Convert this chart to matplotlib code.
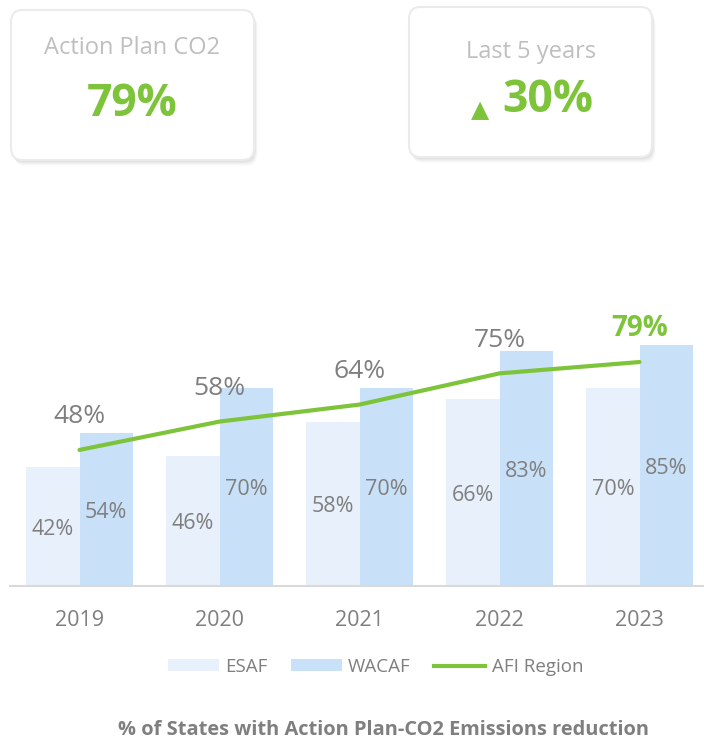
import matplotlib
matplotlib.use("Agg")
import matplotlib.pyplot as plt
from matplotlib.patches import FancyBboxPatch, Patch
from matplotlib.lines import Line2D
import numpy as np

plt.rcParams['font.family'] = ['Open Sans', 'DejaVu Sans']

years = ["2019", "2020", "2021", "2022", "2023"]
esaf = [42, 46, 58, 66, 70]
wacaf = [54, 70, 70, 83, 85]
afi = [48, 58, 64, 75, 79]
kpi1_title, kpi1_value = "Action Plan CO2", "79%"
kpi2_title, kpi2_value = "Last 5 years", "30%"
title = "% of States with Action Plan-CO2 Emissions reduction"
series_names = ["ESAF", "WACAF", "AFI Region"]

C_ESAF = "#E8F1FB"
C_WACAF = "#C8E1F8"
C_GREEN = "#7DC43A"
C_GRAY = "#7F7F7F"
C_LIGHT = "#BFBFBF"

W, H = 704, 739
fig = plt.figure(figsize=(W / 100, H / 100), dpi=100)
fig.patch.set_facecolor("white")

def fx(px):
    return px / W

def fy(py):
    return 1 - py / H

# KPI cards
def card(x0, y0, x1, y1):
    for off, a in [(6, 0.04), (5, 0.05), (4, 0.06), (3, 0.08), (2, 0.09)]:
        sh = FancyBboxPatch((fx(x0 + off * 0.6), fy(y1 + off)), fx(x1 - x0), (y1 - y0) / H,
                            boxstyle="round,pad=0,rounding_size=0.016",
                            transform=fig.transFigure, facecolor="#9a9a9a", edgecolor="none",
                            alpha=a, zorder=1)
        fig.patches.append(sh)
    p = FancyBboxPatch((fx(x0), fy(y1)), fx(x1 - x0), (y1 - y0) / H,
                       boxstyle="round,pad=0,rounding_size=0.016",
                       transform=fig.transFigure, facecolor="white", edgecolor="#EBEBEB",
                       linewidth=1.5, zorder=2)
    fig.patches.append(p)

card(11, 10, 254, 160)
card(409, 7, 652, 157)

fig.text(fx(132.5), fy(48), kpi1_title, ha="center", va="center", fontsize=17, color=C_LIGHT, zorder=3)
fig.text(fx(132.5), fy(105), kpi1_value, ha="center", va="center", fontsize=32, fontweight="bold",
         color=C_GREEN, zorder=3)
fig.text(fx(531), fy(52), kpi2_title, ha="center", va="center", fontsize=17, color=C_LIGHT, zorder=3)
fig.text(fx(547.5), fy(100), kpi2_value, ha="center", va="center", fontsize=32, fontweight="bold",
         color=C_GREEN, zorder=3)
fig.text(fx(480), fy(117), "\u25B2", ha="center", va="baseline", fontsize=17, color=C_GREEN,
         family=["DejaVu Sans"], zorder=3)

# main chart
base_y = 586
unit = 283.5  # px per 100%
ax = fig.add_axes([fx(9.5), fy(base_y), 700 / W, unit / H])
x = np.arange(len(years))
bw = 0.38
ax.bar(x - bw, esaf, width=bw, align="edge", color=C_ESAF, zorder=2)
ax.bar(x, wacaf, width=bw, align="edge", color=C_WACAF, zorder=2)
ax.plot(x, afi, color=C_GREEN, linewidth=3, solid_capstyle="round", zorder=3)
ax.set_xlim(-0.5, 4.5)
ax.set_ylim(0, 100)

for xi, v in zip(x, esaf):
    ax.annotate(f"{v}%", (xi - bw / 2, v / 2), xytext=(0, -2), textcoords="offset points",
                ha="center", va="center", fontsize=15.5, color=C_GRAY, zorder=4)
for xi, v in zip(x, wacaf):
    ax.annotate(f"{v}%", (xi + bw / 2, v / 2), xytext=(0, -2), textcoords="offset points",
                ha="center", va="center", fontsize=15.5, color=C_GRAY, zorder=4)
for i, (xi, v) in enumerate(zip(x, afi)):
    last = i == len(afi) - 1
    ax.annotate(f"{v}%", (xi, v), xytext=(0, 24), textcoords="offset points",
                ha="center", va="center",
                fontsize=20 if last else 19,
                fontweight="bold" if last else "normal",
                color=C_GREEN if last else C_GRAY, zorder=4)

for s in ["top", "right", "left"]:
    ax.spines[s].set_visible(False)
ax.spines["bottom"].set_color("#D9D9D9")
ax.spines["bottom"].set_linewidth(1.5)
ax.set_yticks([])
ax.set_xticks(x)
ax.set_xticklabels(years, fontsize=15.5, color=C_GRAY)
ax.tick_params(axis="x", length=0, pad=17.5)
ax.set_facecolor("none")

handles = [Patch(facecolor=C_ESAF, edgecolor="none"),
           Patch(facecolor=C_WACAF, edgecolor="none"),
           Line2D([0], [0], color=C_GREEN, linewidth=3)]
leg = fig.legend(handles, series_names, loc="center", bbox_to_anchor=(fx(375.5), fy(667)),
                 ncol=3, frameon=False, fontsize=13.5, handlelength=2.7, handleheight=0.6,
                 handletextpad=0.35, columnspacing=1.25)
for t in leg.get_texts():
    t.set_color(C_GRAY)

fig.text(fx(383.5), fy(730), title, ha="center", va="center", fontsize=14.4, fontweight="bold",
         color=C_GRAY)

fig.savefig("out.png", dpi=100, facecolor="white")
